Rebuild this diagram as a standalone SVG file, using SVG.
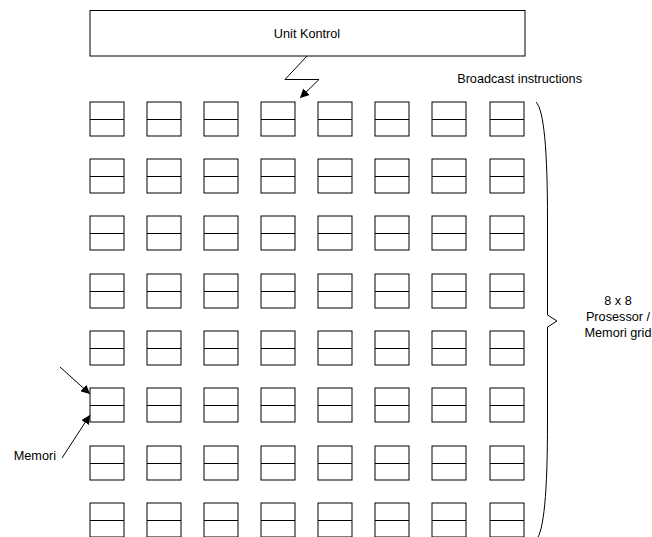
<svg xmlns="http://www.w3.org/2000/svg" xmlns:xlink="http://www.w3.org/1999/xlink" width="652" height="537" viewBox="0 0 652 537">
<style>
text{font-family:"Liberation Sans",Arial,sans-serif;font-size:12.7px;fill:#000}
.box{fill:#fff;stroke:#000;stroke-width:1}
.ln{fill:none;stroke:#000;stroke-width:1}
</style>
<defs>
<marker id="ah" viewBox="0 0 10 10" refX="10" refY="5" markerWidth="9" markerHeight="9" markerUnits="userSpaceOnUse" orient="auto">
<path d="M0,0 L10,5 L0,10 z" fill="#000"/>
</marker>
<g id="cell">
<rect x="0" y="0" width="34" height="34" class="box"/>
<line x1="0" y1="17.5" x2="34" y2="17.5" class="ln"/>
</g>
</defs>
<rect width="652" height="537" fill="#fff"/>
<g id="unit-kontrol">
<rect x="90" y="10.5" width="435" height="45.5" class="box"/>
<text x="307" y="38" text-anchor="middle">Unit Kontrol</text>
</g>
<g id="grid">
<g id="r0">
<use xlink:href="#cell" x="90" y="102"/><use xlink:href="#cell" x="147" y="102"/><use xlink:href="#cell" x="204" y="102"/><use xlink:href="#cell" x="261" y="102"/><use xlink:href="#cell" x="318" y="102"/><use xlink:href="#cell" x="375" y="102"/><use xlink:href="#cell" x="432" y="102"/><use xlink:href="#cell" x="490" y="102"/>
</g>
<g id="r1">
<use xlink:href="#cell" x="90" y="159"/><use xlink:href="#cell" x="147" y="159"/><use xlink:href="#cell" x="204" y="159"/><use xlink:href="#cell" x="261" y="159"/><use xlink:href="#cell" x="318" y="159"/><use xlink:href="#cell" x="375" y="159"/><use xlink:href="#cell" x="432" y="159"/><use xlink:href="#cell" x="490" y="159"/>
</g>
<g id="r2">
<use xlink:href="#cell" x="90" y="216"/><use xlink:href="#cell" x="147" y="216"/><use xlink:href="#cell" x="204" y="216"/><use xlink:href="#cell" x="261" y="216"/><use xlink:href="#cell" x="318" y="216"/><use xlink:href="#cell" x="375" y="216"/><use xlink:href="#cell" x="432" y="216"/><use xlink:href="#cell" x="490" y="216"/>
</g>
<g id="r3">
<use xlink:href="#cell" x="90" y="274"/><use xlink:href="#cell" x="147" y="274"/><use xlink:href="#cell" x="204" y="274"/><use xlink:href="#cell" x="261" y="274"/><use xlink:href="#cell" x="318" y="274"/><use xlink:href="#cell" x="375" y="274"/><use xlink:href="#cell" x="432" y="274"/><use xlink:href="#cell" x="490" y="274"/>
</g>
<g id="r4">
<use xlink:href="#cell" x="90" y="331"/><use xlink:href="#cell" x="147" y="331"/><use xlink:href="#cell" x="204" y="331"/><use xlink:href="#cell" x="261" y="331"/><use xlink:href="#cell" x="318" y="331"/><use xlink:href="#cell" x="375" y="331"/><use xlink:href="#cell" x="432" y="331"/><use xlink:href="#cell" x="490" y="331"/>
</g>
<g id="r5">
<use xlink:href="#cell" x="90" y="388"/><use xlink:href="#cell" x="147" y="388"/><use xlink:href="#cell" x="204" y="388"/><use xlink:href="#cell" x="261" y="388"/><use xlink:href="#cell" x="318" y="388"/><use xlink:href="#cell" x="375" y="388"/><use xlink:href="#cell" x="432" y="388"/><use xlink:href="#cell" x="490" y="388"/>
</g>
<g id="r6">
<use xlink:href="#cell" x="90" y="446"/><use xlink:href="#cell" x="147" y="446"/><use xlink:href="#cell" x="204" y="446"/><use xlink:href="#cell" x="261" y="446"/><use xlink:href="#cell" x="318" y="446"/><use xlink:href="#cell" x="375" y="446"/><use xlink:href="#cell" x="432" y="446"/><use xlink:href="#cell" x="490" y="446"/>
</g>
<g id="r7">
<use xlink:href="#cell" x="90" y="503"/><use xlink:href="#cell" x="147" y="503"/><use xlink:href="#cell" x="204" y="503"/><use xlink:href="#cell" x="261" y="503"/><use xlink:href="#cell" x="318" y="503"/><use xlink:href="#cell" x="375" y="503"/><use xlink:href="#cell" x="432" y="503"/><use xlink:href="#cell" x="490" y="503"/>
</g>
</g>
<g id="connectors">
<path d="M307,56 L285,79.5 L319,79.5 L300,98" class="ln" marker-end="url(#ah)"/>
<path d="M60,367 L90,394" class="ln" marker-end="url(#ah)"/>
<path d="M62,458 L90,415" class="ln" marker-end="url(#ah)"/>
<path d="M536,102 C544,110 547.5,150 547.5,220 L547.5,315 L557,321 L547.5,327 L547.5,422 C547.5,492 544,532 536,540" class="ln"/>
</g>
<g id="labels">
<text x="582" y="83" text-anchor="end">Broadcast instructions</text>
<text x="618" y="305" text-anchor="middle">8 x 8</text>
<text x="618" y="321" text-anchor="middle">Prosessor /</text>
<text x="618" y="337" text-anchor="middle">Memori grid</text>
<text x="56" y="460" text-anchor="end">Memori</text>
</g>
</svg>
